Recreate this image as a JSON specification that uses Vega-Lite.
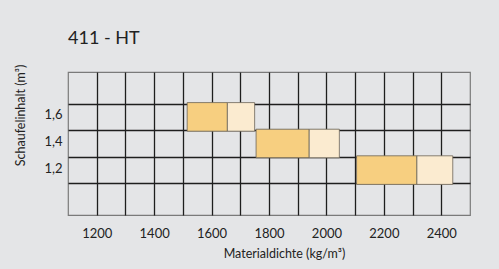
{
  "$schema": "https://vega.github.io/schema/vega-lite/v6.json",
  "width": 402,
  "height": 143,
  "autosize": "none",
  "padding": {"left": 68, "top": 72, "right": 29, "bottom": 54},
  "background": "#e4e5e7",
  "title": {
    "text": "411 - HT",
    "anchor": "start",
    "frame": "group",
    "baseline": "alphabetic",
    "offset": 2,
    "font": "Lato",
    "fontSize": 18,
    "fontWeight": "normal",
    "color": "#222222"
  },
  "config": {
    "view": {"stroke": "#7a7a7a", "strokeWidth": 1.2, "fill": "#e4e5e7"},
    "font": "Lato",
    "axis": {
      "domain": false,
      "ticks": false,
      "gridColor": "#1e1e1e",
      "gridWidth": 1.3,
      "gridOpacity": 1,
      "labelFont": "Lato",
      "labelFontSize": 13,
      "labelColor": "#222222",
      "titleFont": "Lato",
      "titleFontSize": 12.5,
      "titleFontWeight": "normal",
      "titleColor": "#222222"
    }
  },
  "data": {
    "values": [
      {"inhalt": 1.6, "von": 1515, "bis": 1655, "segment": "1"},
      {"inhalt": 1.6, "von": 1655, "bis": 1750, "segment": "2"},
      {"inhalt": 1.4, "von": 1755, "bis": 1940, "segment": "1"},
      {"inhalt": 1.4, "von": 1940, "bis": 2045, "segment": "2"},
      {"inhalt": 1.2, "von": 2105, "bis": 2315, "segment": "1"},
      {"inhalt": 1.2, "von": 2315, "bis": 2440, "segment": "2"}
    ]
  },
  "mark": {"type": "bar", "height": 28.6, "stroke": "#6b6458", "strokeWidth": 1, "strokeOpacity": 0.8},
  "encoding": {
    "x": {
      "field": "von",
      "type": "quantitative",
      "scale": {"domain": [1100, 2500], "nice": false, "zero": false},
      "axis": {
        "values": [1200, 1300, 1400, 1500, 1600, 1700, 1800, 1900, 2000, 2100, 2200, 2300, 2400],
        "format": "d",
        "labelExpr": "datum.value % 200 == 0 ? datum.label : ''",
        "labelPadding": 12,
        "title": "Materialdichte (kg/m³)",
        "titleX": 216,
        "titleY": 42,
        "titleBaseline": "alphabetic"
      }
    },
    "x2": {"field": "bis"},
    "y": {
      "field": "inhalt",
      "type": "quantitative",
      "scale": {"domain": [0.9, 1.9], "nice": false, "zero": false},
      "axis": {
        "values": [1.1, 1.2, 1.3, 1.4, 1.5, 1.6, 1.7],
        "labelExpr": "round(datum.value * 10) % 2 == 0 ? replace(format(datum.value, '.1f'), '.', ',') : ''",
        "gridOpacity": {"condition": {"test": "round(datum.value * 10) % 2 == 1", "value": 1}, "value": 0},
        "labelPadding": 6,
        "labelOffset": -2,
        "title": "Schaufelinhalt (m³)",
        "titleX": -48,
        "titleY": 43,
        "titleAlign": "center",
        "titleBaseline": "middle",
        "titleAngle": -90
      }
    },
    "color": {
      "field": "segment",
      "type": "nominal",
      "scale": {"domain": ["1", "2"], "range": ["#f7cf80", "#fbebd0"]},
      "legend": null
    }
  }
}
